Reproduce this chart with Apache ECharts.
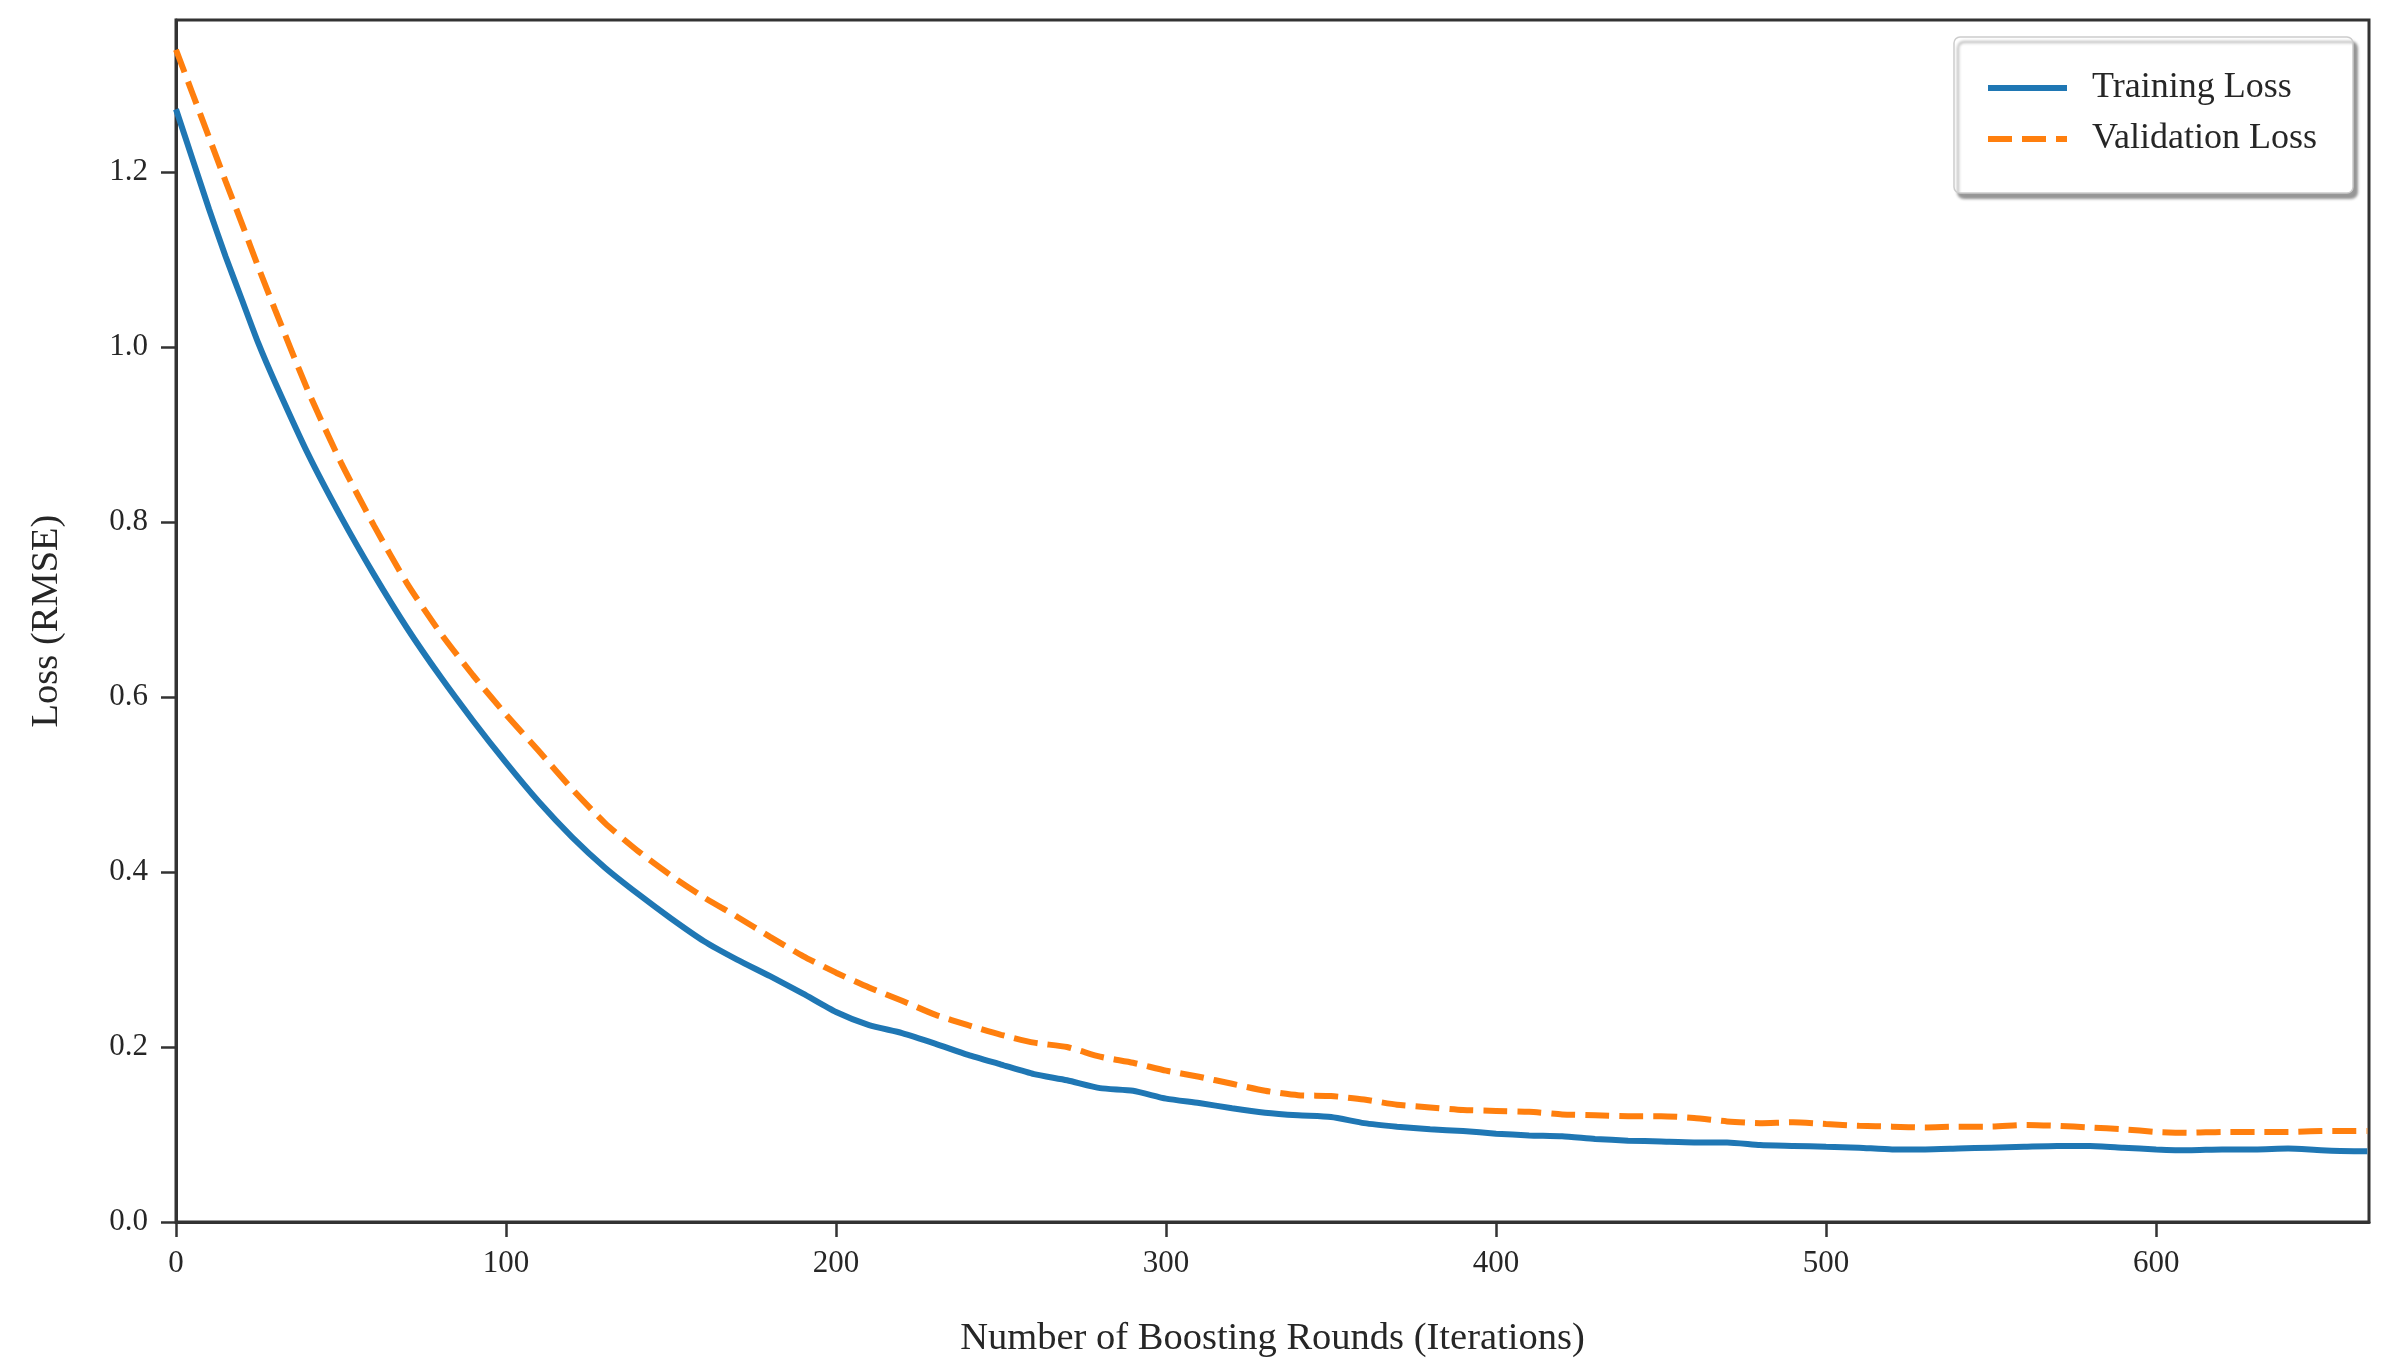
<!DOCTYPE html>
<html>
<head>
<meta charset="utf-8">
<script src="https://cdn.jsdelivr.net/npm/echarts@6/dist/echarts.min.js"></script>
<style>
html,body{margin:0;padding:0;background:#fff;}
#chart{width:2398px;height:1370px;}
</style>
</head>
<body>
<div id="chart"></div>
<script>
const iterations = [0,5,10,15,20,25,30,40,50,60,70,80,90,100,110,120,130,140,150,160,170,180,190,200,210,220,230,240,250,260,270,280,290,300,310,320,330,340,350,360,370,380,390,400,410,420,430,440,450,460,470,480,490,500,510,520,530,540,550,560,570,580,590,600,610,620,630,640,650,660,664];
const trainLoss = [1.272,1.215,1.158,1.104,1.054,1.004,0.960,0.878,0.806,0.740,0.679,0.624,0.573,0.525,0.480,0.440,0.405,0.375,0.347,0.321,0.300,0.281,0.261,0.240,0.225,0.216,0.204,0.191,0.180,0.169,0.162,0.153,0.150,0.141,0.136,0.130,0.125,0.122,0.120,0.113,0.109,0.106,0.104,0.101,0.099,0.098,0.095,0.093,0.092,0.091,0.091,0.088,0.087,0.086,0.085,0.083,0.083,0.084,0.085,0.086,0.087,0.087,0.085,0.083,0.082,0.083,0.083,0.084,0.082,0.081,0.081];
const valLoss = [1.340,1.290,1.240,1.190,1.141,1.091,1.043,0.950,0.868,0.796,0.730,0.674,0.625,0.580,0.538,0.495,0.456,0.424,0.396,0.371,0.349,0.326,0.304,0.285,0.268,0.253,0.237,0.225,0.214,0.205,0.200,0.189,0.182,0.173,0.166,0.158,0.150,0.145,0.144,0.140,0.134,0.131,0.128,0.127,0.126,0.123,0.122,0.121,0.121,0.119,0.115,0.113,0.114,0.112,0.110,0.109,0.108,0.109,0.109,0.111,0.110,0.108,0.106,0.103,0.102,0.103,0.103,0.103,0.104,0.104,0.104];
const xTicks = [0,100,200,300,400,500,600];
const yTicks = [0,0.2,0.4,0.6,0.8,1.0,1.2];

const FONT = "'Liberation Serif','Times New Roman',serif";
const TXT = '#262626';
const trainData = iterations.map((x,i)=>[x,trainLoss[i]]);
const valData = iterations.map((x,i)=>[x,valLoss[i]]);

const chart = echarts.init(document.getElementById('chart'), null, {renderer:'canvas'});
chart.setOption({
  animation:false,
  backgroundColor:'#fff',
  grid:{left:176, top:20, width:2193, height:1202, show:true, borderColor:'#333', borderWidth:3, containLabel:false},
  xAxis:{
    type:'value', min:0, max:664.5,
    name:'Number of Boosting Rounds (Iterations)', nameLocation:'middle', nameGap:97,
    nameTextStyle:{fontFamily:FONT, fontSize:38.5, color:TXT},
    axisLine:{show:true, lineStyle:{color:'#333', width:3}},
    axisTick:{show:true, length:15, inside:false, customValues:xTicks, lineStyle:{color:'#333', width:2.5}},
    axisLabel:{customValues:xTicks, margin:26, fontFamily:FONT, fontSize:31, color:TXT, formatter:v=>String(v)},
    splitLine:{show:false}
  },
  yAxis:{
    type:'value', min:0, max:1.374,
    name:'Loss (RMSE)', nameLocation:'middle', nameGap:110,
    nameTextStyle:{fontFamily:FONT, fontSize:38.5, color:TXT},
    axisLine:{show:true, lineStyle:{color:'#333', width:3}},
    axisTick:{show:true, length:15, customValues:yTicks, lineStyle:{color:'#333', width:2.5}},
    axisLabel:{customValues:yTicks, margin:28, fontFamily:FONT, fontSize:31, color:TXT, formatter:v=>v.toFixed(1)},
    splitLine:{show:false}
  },
  legend:{
    left:1954, top:37, orient:'vertical',
    padding:[33,36,36,31], itemGap:15, itemWidth:79, itemHeight:20,
    backgroundColor:'#fff', borderColor:'#cccccc', borderWidth:1.5, borderRadius:6,
    shadowColor:'rgba(0,0,0,0.4)', shadowBlur:3, shadowOffsetX:4, shadowOffsetY:5,
    itemStyle:{opacity:0},
    lineStyle:{width:6},
    textStyle:{fontFamily:FONT, fontSize:36, color:TXT, padding:[0,0,0,20], lineHeight:36},
    data:['Training Loss','Validation Loss']
  },
  series:[
    {name:'Training Loss', type:'line', data:trainData, symbol:'none', showSymbol:false, smooth:0.2,
     lineStyle:{color:'#1f77b4', width:6}, itemStyle:{color:'#1f77b4'}, z:3},
    {name:'Validation Loss', type:'line', data:valData, symbol:'none', showSymbol:false, smooth:0.2,
     lineStyle:{color:'#ff7f0e', width:6, type:[24,10], cap:'butt'}, itemStyle:{color:'#ff7f0e'}, z:2}
  ]
});
</script>
</body>
</html>
